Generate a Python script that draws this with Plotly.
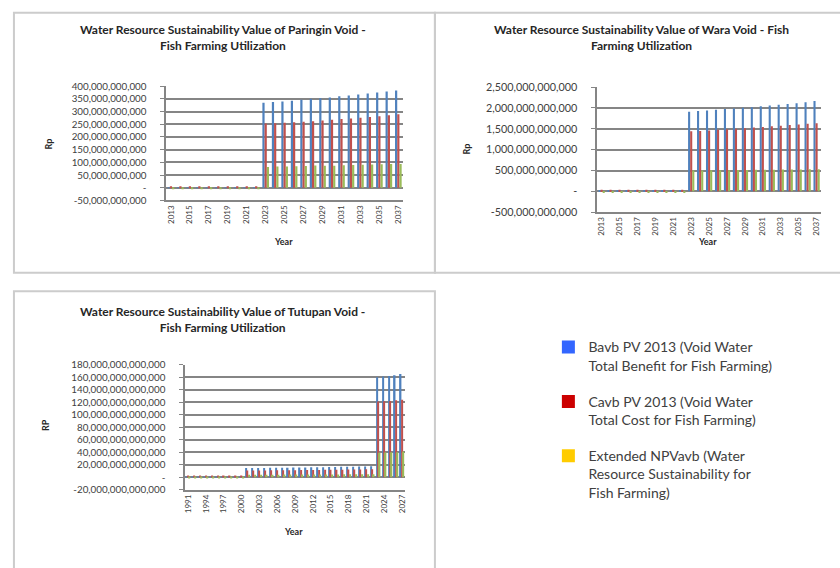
import plotly.graph_objects as go

# ---- data (Rp) ----
paringin_years = list(range(2013, 2038))
paringin_bavb = [1.5e9] * 10 + [335e9, 338e9, 340e9, 343e9, 346e9, 350e9, 352e9, 355e9,
                                360e9, 363e9, 367e9, 371e9, 375e9, 379e9, 383e9]
paringin_cavb = [5.5e9] * 10 + [253e9, 254e9, 256e9, 258e9, 260e9, 262e9, 265e9, 268e9,
                                271e9, 273e9, 276e9, 279e9, 282e9, 285e9, 289e9]
paringin_npv = [-4e9] * 10 + [82e9, 84e9, 84e9, 85e9, 86e9, 88e9, 87e9, 87e9,
                              89e9, 90e9, 91e9, 92e9, 93e9, 94e9, 94e9]

wara_years = list(range(2013, 2038))
wara_bavb = [10e9] * 10 + [1910e9, 1925e9, 1940e9, 1960e9, 1975e9, 1990e9, 2005e9, 2020e9,
                           2040e9, 2060e9, 2075e9, 2095e9, 2115e9, 2140e9, 2165e9]
wara_cavb = [40e9] * 10 + [1440e9, 1450e9, 1460e9, 1475e9, 1490e9, 1500e9, 1515e9, 1530e9,
                           1545e9, 1560e9, 1575e9, 1590e9, 1605e9, 1620e9, 1635e9]
wara_npv = [-30e9] * 10 + [500e9, 502e9, 505e9, 507e9, 509e9, 511e9, 513e9, 515e9,
                           517e9, 519e9, 521e9, 523e9, 525e9, 527e9, 530e9]

tutupan_years = list(range(1991, 2028))
tutupan_bavb = ([0.5e12] * 10
                + [14.5e12, 14.6e12, 14.7e12, 14.8e12, 14.9e12, 15.0e12, 15.1e12, 15.2e12,
                   15.4e12, 15.5e12, 15.6e12, 15.8e12, 15.9e12, 16.0e12, 16.2e12, 16.3e12,
                   16.5e12, 16.6e12, 16.8e12, 17.0e12, 17.2e12, 17.4e12]
                + [160e12, 161e12, 162e12, 163e12, 165e12])
tutupan_cavb = ([2e12] * 10
                + [10.6e12, 10.7e12, 10.7e12, 10.8e12, 10.9e12, 11.0e12, 11.0e12, 11.1e12,
                   11.2e12, 11.3e12, 11.4e12, 11.5e12, 11.6e12, 11.7e12, 11.8e12, 11.9e12,
                   12.0e12, 12.1e12, 12.2e12, 12.4e12, 12.5e12, 12.7e12]
                + [121e12, 121.5e12, 122e12, 123e12, 124e12])
tutupan_npv = ([-1.5e12] * 10
               + [3.9e12, 3.9e12, 4.0e12, 4.0e12, 4.0e12, 4.0e12, 4.1e12, 4.1e12,
                  4.2e12, 4.2e12, 4.2e12, 4.3e12, 4.3e12, 4.3e12, 4.4e12, 4.4e12,
                  4.5e12, 4.5e12, 4.6e12, 4.6e12, 4.7e12, 4.7e12]
               + [39e12, 39.5e12, 40e12, 40e12, 41e12])

# ---- tick labels ----
paringin_tickvals = [-50e9, 0, 50e9, 100e9, 150e9, 200e9, 250e9, 300e9, 350e9, 400e9]
paringin_ticktext = ["-50,000,000,000", "-", "50,000,000,000", "100,000,000,000",
                     "150,000,000,000", "200,000,000,000", "250,000,000,000",
                     "300,000,000,000", "350,000,000,000", "400,000,000,000"]
wara_tickvals = [-500e9, 0, 500e9, 1000e9, 1500e9, 2000e9, 2500e9]
wara_ticktext = ["-500,000,000,000", "-", "500,000,000,000", "1,000,000,000,000",
                 "1,500,000,000,000", "2,000,000,000,000", "2,500,000,000,000"]
tutupan_tickvals = [-20e12, 0, 20e12, 40e12, 60e12, 80e12, 100e12, 120e12, 140e12,
                    160e12, 180e12]
tutupan_ticktext = ["-20,000,000,000,000", "-", "20,000,000,000,000", "40,000,000,000,000",
                    "60,000,000,000,000", "80,000,000,000,000", "100,000,000,000,000",
                    "120,000,000,000,000", "140,000,000,000,000", "160,000,000,000,000",
                    "180,000,000,000,000"]

legend_names = ["Bavb PV 2013 (Void Water<br>Total Benefit for Fish Farming)",
                "Cavb PV 2013 (Void Water<br>Total Cost for Fish Farming)",
                "Extended NPVavb (Water<br>Resource Sustainability for<br>Fish Farming)"]
legend_colors = ["#3366FF", "#CC0000", "#FFCC00"]
bar_colors = ["#4F81BD", "#C0504D", "#9BBB59"]

W, H = 840, 568
FONT = "Lato"


def px(x):
    return x / W


def py(y):
    return 1 - y / H


fig = go.Figure()

charts = [
    ("", paringin_years, [paringin_bavb, paringin_cavb, paringin_npv]),
    ("2", wara_years, [wara_bavb, wara_cavb, wara_npv]),
    ("3", tutupan_years, [tutupan_bavb, tutupan_cavb, tutupan_npv]),
]
for suffix, years, series in charts:
    for vals, col in zip(series, bar_colors):
        fig.add_trace(go.Bar(x=years, y=vals, marker_color=col, marker_line_width=0,
                             showlegend=False, xaxis="x" + suffix, yaxis="y" + suffix))

# legend entries (swatch colours differ from the bars in the original)
for name, col in zip(legend_names, legend_colors):
    fig.add_trace(go.Scatter(x=[None], y=[None], mode="markers", name=name, legendgroup=name,
                             marker=dict(symbol="square", size=13, color=col),
                             xaxis="x", yaxis="y"))

grid = "#858585"


def xaxis(domain, anchor, rng, tick0, dtick):
    return dict(domain=domain, anchor=anchor, range=rng, tick0=tick0, dtick=dtick,
                tickmode="linear", tickangle=-90, tickfont=dict(family=FONT, size=8, color="#404040"),
                showline=True, linecolor=grid, linewidth=1.5, showgrid=False, ticks="",
                zeroline=False, fixedrange=True)


def yaxis(domain, anchor, rng, vals, text, fsize):
    return dict(domain=domain, anchor=anchor, range=rng, tickmode="array", tickvals=vals,
                ticktext=text, tickfont=dict(family=FONT, size=fsize, color="#404040"),
                showline=True, linecolor=grid,
                linewidth=1.5, ticks="outside", ticklen=4, tickcolor=grid,
                ticklabelstandoff=12, showgrid=True, gridcolor=grid, gridwidth=1.5,
                zeroline=True, zerolinecolor=grid, zerolinewidth=1.5, fixedrange=True)


layout = dict(
    width=W, height=H, margin=dict(l=0, r=0, t=0, b=0),
    paper_bgcolor="white", plot_bgcolor="white",
    barmode="group", bargap=0.3, bargroupgap=0,
    font=dict(family=FONT, color="#262626"),
    xaxis=xaxis([px(165), px(403)], "y", [2012.5, 2037.5], 2013, 2),
    yaxis=yaxis([py(198), py(81)], "x", [-50e9, 400e9], paringin_tickvals,
                paringin_ticktext, 9.8),
    xaxis2=xaxis([px(598), px(823)], "y2", [2012.5, 2037.5], 2013, 2),
    yaxis2=yaxis([py(210), py(82)], "x2", [-500e9, 2500e9], wara_tickvals,
                 wara_ticktext, 10.8),
    xaxis3=xaxis([px(184), px(405)], "y3", [1990.5, 2027.5], 1991, 3),
    yaxis3=yaxis([py(494), py(366)], "x3", [-20e12, 180e12], tutupan_tickvals,
                 tutupan_ticktext, 9.8),
    legend=dict(x=px(549), y=py(332), xanchor="left", yanchor="top", valign="top",
                font=dict(family=FONT, size=14, color="#404040"), tracegroupgap=15,
                bgcolor="rgba(0,0,0,0)", itemclick=False, itemdoubleclick=False),
    showlegend=True,
)
fig.update_layout(**layout)

# panel borders
border = dict(color="#cccccc", width=2)
fig.add_shape(type="rect", xref="paper", yref="paper", x0=px(12), x1=px(435),
              y0=py(272), y1=py(6), line=border)
fig.add_shape(type="rect", xref="paper", yref="paper", x0=px(435), x1=px(850),
              y0=py(272), y1=py(6), line=border)
fig.add_shape(type="rect", xref="paper", yref="paper", x0=px(12), x1=px(435),
              y0=py(580), y1=py(291), line=border)

titles = [
    ("Water Resource Sustainability Value of Paringin Void -<br>Fish Farming Utilization", 222, 31),
    ("Water Resource Sustainability Value of Wara Void - Fish<br>Farming Utilization", 643, 31),
    ("Water Resource Sustainability Value of Tutupan Void -<br>Fish Farming Utilization", 222, 320),
]
for text, x, y in titles:
    fig.add_annotation(text="<b>" + text + "</b>", xref="paper", yref="paper", x=px(x), y=py(y),
                       xanchor="center", yanchor="middle", showarrow=False,
                       font=dict(family=FONT, size=12, color="#262626"))

axis_titles = [("Rp", 47, 140, -90), ("Year", 283, 240, 0),
               ("Rp", 467, 145, -90), ("Year", 709, 240, 0),
               ("RP", 43, 428, -90), ("Year", 293, 537, 0)]
for text, x, y, ang in axis_titles:
    fig.add_annotation(text="<b>" + text + "</b>", xref="paper", yref="paper", x=px(x), y=py(y),
                       xanchor="center", yanchor="middle", showarrow=False, textangle=ang,
                       font=dict(family=FONT, size=9, color="#262626"))

# drop the browser's default body margin so the 840x568 figure fills the window
fig.write_html("out.html", config={"displayModeBar": False},
               post_script="document.body.style.margin='0';document.body.style.overflow='hidden';")
